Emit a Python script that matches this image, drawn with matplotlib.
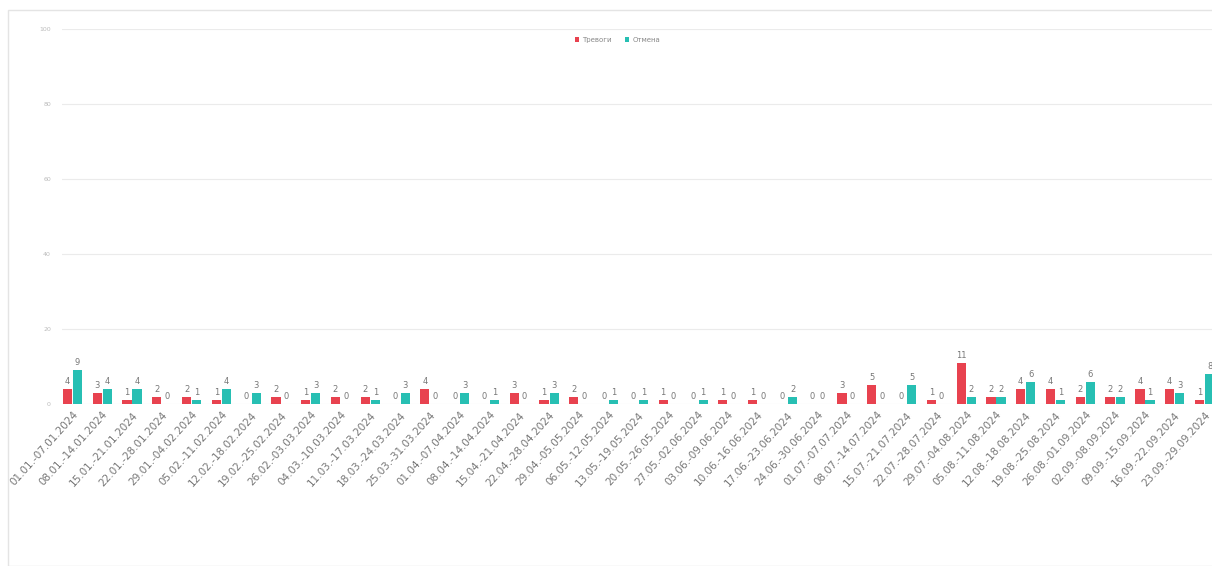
import matplotlib
matplotlib.use("Agg")
import matplotlib.pyplot as plt
from matplotlib.patches import Rectangle
import numpy as np

RED, TEAL = "#E8424F", "#27BFB3"
plt.rcParams.update({"font.family": "DejaVu Sans"})

weeks = [
    "01.01.-07.01.2024", "08.01.-14.01.2024", "15.01.-21.01.2024", "22.01.-28.01.2024",
    "29.01.-04.02.2024", "05.02.-11.02.2024", "12.02.-18.02.2024", "19.02.-25.02.2024",
    "26.02.-03.03.2024", "04.03.-10.03.2024", "11.03.-17.03.2024", "18.03.-24.03.2024",
    "25.03.-31.03.2024", "01.04.-07.04.2024", "08.04.-14.04.2024", "15.04.-21.04.2024",
    "22.04.-28.04.2024", "29.04.-05.05.2024", "06.05.-12.05.2024", "13.05.-19.05.2024",
    "20.05.-26.05.2024", "27.05.-02.06.2024", "03.06.-09.06.2024", "10.06.-16.06.2024",
    "17.06.-23.06.2024", "24.06.-30.06.2024", "01.07.-07.07.2024", "08.07.-14.07.2024",
    "15.07.-21.07.2024", "22.07.-28.07.2024", "29.07.-04.08.2024", "05.08.-11.08.2024",
    "12.08.-18.08.2024", "19.08.-25.08.2024", "26.08.-01.09.2024", "02.09.-08.09.2024",
    "09.09.-15.09.2024", "16.09.-22.09.2024", "23.09.-29.09.2024",
]
alarms = [4, 3, 1, 2, 2, 1, 0, 2, 1, 2, 2, 0, 4, 0, 0, 3, 1, 2, 0, 0,
          1, 0, 1, 1, 0, 0, 3, 5, 0, 1, 11, 2, 4, 4, 2, 2, 4, 4, 1]
cancels = [9, 4, 4, 0, 1, 4, 3, 0, 3, 0, 1, 3, 0, 3, 1, 0, 3, 0, 1, 1,
           0, 1, 0, 0, 2, 0, 0, 0, 5, 0, 2, 2, 6, 1, 6, 2, 1, 3, 8]
series_names = ["Тревоги", "Отмена"]

x = np.arange(len(weeks))
w, off = 0.31, 0.17

fig = plt.figure(figsize=(12.12, 5.66), dpi=100)
fig.patches.append(Rectangle((8 / 1212, 0), 1.0, 556 / 566, transform=fig.transFigure,
                             fill=False, edgecolor="#E4E4E4", lw=1.0))
ax = fig.add_axes([62 / 1212, 162 / 566, 1150 / 1212, 375 / 566])

b1 = ax.bar(x - off, alarms, w, color=RED, label=series_names[0], zorder=3)
b2 = ax.bar(x + off, cancels, w, color=TEAL, label=series_names[1], zorder=3)
for bars in (b1, b2):
    ax.bar_label(bars, padding=2, fontsize=6, color="#777777")

ax.set_xlim(-0.35, 38.25)
ax.set_ylim(0, 100)
ax.set_yticks(range(0, 101, 20))
ax.tick_params(axis="y", labelsize=4.5, colors="#BBBBBB", length=0, pad=8)
ax.set_xticks(x)
ax.set_xticklabels(weeks, rotation=48, ha="right", rotation_mode="anchor",
                   fontsize=7.5, color="#777777")
ax.tick_params(axis="x", length=0, pad=4)
ax.grid(axis="y", color="#EBEBEB", lw=0.8, zorder=0)
for s in ax.spines.values():
    s.set_visible(False)

ax.legend(loc="upper center", bbox_to_anchor=(0.483, 0.995), ncol=2, frameon=False,
          fontsize=5, handlelength=0.6, handleheight=0.6, columnspacing=2.0,
          handletextpad=0.4, labelcolor="#888888")

fig.savefig("out.png", facecolor="white")
